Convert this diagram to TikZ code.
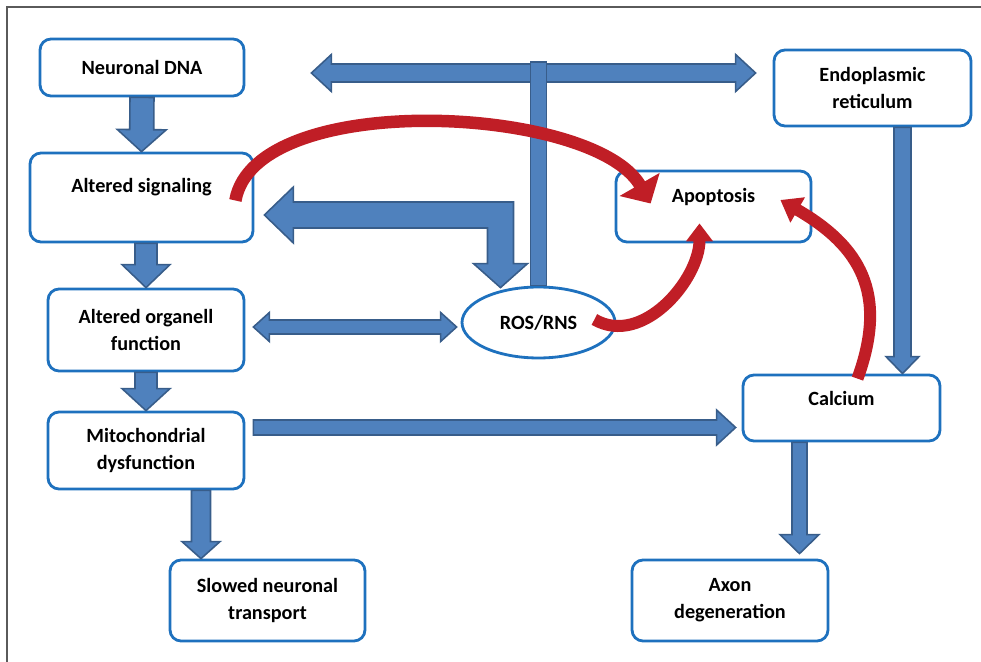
\documentclass[tikz,border=0pt]{standalone}
\usepackage{fontspec}
\setmainfont{Carlito}
\usetikzlibrary{arrows.meta, calc, shapes.geometric}
\definecolor{bblue}{RGB}{30,113,190}
\definecolor{afill}{RGB}{79,129,189}
\definecolor{aline}{RGB}{56,93,138}
\definecolor{rred}{RGB}{192,30,38}
\definecolor{framec}{RGB}{90,90,90}

% block arrow: from, to, half shaft, half head, head length
\newcommand{\blockarrow}[5]{%
  \coordinate (ba-h) at ($(#2)!#5!(#1)$);
  \draw[barr] ($(#1)!#3!90:(#2)$) -- ($(ba-h)!#3!90:(#2)$) -- ($(ba-h)!#4!90:(#2)$) -- (#2)
    -- ($(ba-h)!#4!-90:(#2)$) -- ($(ba-h)!#3!-90:(#2)$) -- ($(#1)!#3!-90:(#2)$) -- cycle;}
% same, with a head at both ends
\newcommand{\dblarrow}[5]{%
  \coordinate (ba-a) at ($(#1)!#5!(#2)$);
  \coordinate (ba-b) at ($(#2)!#5!(#1)$);
  \draw[barr] (#1) -- ($(ba-a)!#4!90:(#2)$) -- ($(ba-a)!#3!90:(#2)$) -- ($(ba-b)!#3!90:(#2)$)
    -- ($(ba-b)!#4!90:(#2)$) -- (#2) -- ($(ba-b)!#4!-90:(#2)$) -- ($(ba-b)!#3!-90:(#2)$)
    -- ($(ba-a)!#3!-90:(#2)$) -- ($(ba-a)!#4!-90:(#2)$) -- cycle;}

\begin{document}
\begin{tikzpicture}[x=0.02cm, y=-0.02cm,
  box/.style={draw=bblue,line width=1.6pt,rounded corners=0.22cm,fill=white,
              align=center,inner sep=0pt,font={\fontsize{11.5}{15.5}\selectfont\bfseries}},
  hightext/.style={text height=8pt,text depth=#1},
  barr/.style={fill=afill,draw=aline,line width=0.9pt,line join=miter},
  rarr/.style={draw=rred,line width=#1}
]
\useasboundingbox (0,0) rectangle (981,662);
\draw[framec,line width=0.6pt] (7,662) -- (7,7) -- (981,7);

% boxes
\node[box,minimum width=4.08cm,minimum height=1.14cm] (dna) at (142,67.5) {Neuronal DNA};
\node[box,hightext=13.6pt,minimum width=4.46cm,minimum height=1.78cm] (sig) at (141.5,197.5) {Altered signaling};
\node[box,minimum width=3.92cm,minimum height=1.64cm] (org) at (146,330) {Altered organell\\function};
\node[box,minimum width=3.92cm,minimum height=1.54cm] (mito) at (146,450.5) {Mitochondrial\\dysfunction};
\node[box,minimum width=3.9cm,minimum height=1.62cm] (slow) at (267.5,600.5) {Slowed neuronal\\transport};
\node[box,ellipse,minimum width=3.06cm,minimum height=1.42cm] (ros) at (538.5,322.5) {ROS/RNS};
\node[box,hightext=12.4pt,minimum width=3.9cm,minimum height=1.42cm] (apo) at (713.5,206.5) {Apoptosis};
\node[box,minimum width=3.94cm,minimum height=1.52cm] (er) at (872.5,88) {Endoplasmic\\reticulum};
\node[box,hightext=11.2pt,minimum width=3.94cm,minimum height=1.32cm] (cal) at (841.5,408) {Calcium};
\node[box,minimum width=3.92cm,minimum height=1.62cm] (axon) at (730,600.5) {Axon\\degeneration};

% blue block arrows
\coordinate (a2) at (org.north |- sig.south);
\coordinate (a4) at ($(mito.south)+(55,0)$);
\coordinate (a4e) at (a4 |- slow.north);
\coordinate (m2c) at ($(mito.east)+(8,-23)$);
\coordinate (m2ce) at ($(cal.west |- m2c)+(-6,0)$);
\coordinate (o2r) at ($(org.east)+(8,-3)$);
\coordinate (o2re) at ($(ros.west |- o2r)+(-4,0)$);
\coordinate (e2c) at ($(er.south)+(30,0)$);
\coordinate (e2ce) at (e2c |- cal.north);
\coordinate (c2a) at ($(cal.south)+(-42,0)$);
\coordinate (c2ae) at ($(c2a |- axon.north)+(0,-5)$);
\coordinate (tl) at ($(dna.east)+(66,5.5)$);
\coordinate (tr) at ($(er.west |- tl)+(-17,0)$);
\coordinate (sl) at ($(sig.east)+(10,17.5)$);
\coordinate (rb) at ($(ros.north)+(-38,2)$);

\blockarrow{dna.south}{sig.north}{0.24cm}{0.49cm}{0.44cm}
\blockarrow{a2}{org.north}{0.22cm}{0.48cm}{0.46cm}
\blockarrow{org.south}{mito.north}{0.22cm}{0.48cm}{0.44cm}
\blockarrow{a4}{a4e}{0.19cm}{0.38cm}{0.34cm}
\blockarrow{m2c}{m2ce}{0.15cm}{0.35cm}{0.38cm}
\blockarrow{e2c}{e2ce}{0.17cm}{0.33cm}{0.34cm}
\blockarrow{c2a}{c2ae}{0.15cm}{0.39cm}{0.38cm}
\dblarrow{o2r}{o2re}{0.14cm}{0.29cm}{0.32cm}
\dblarrow{tl}{tr}{0.18cm}{0.37cm}{0.4cm}
\draw[barr] ($(ros.north)+(-8,0)$) rectangle ($(ros.north |- tl)+(8,-11)$);
\draw[barr] (sl) -- ($(sl)+(29,-28)$) -- ($(sl)+(29,-13)$) -- ($(rb |- sl)+(13,-13)$)
  -- ($(rb)+(13,-24)$) -- ($(rb)+(27,-24)$) -- (rb) -- ($(rb)+(-27,-24)$)
  -- ($(rb)+(-13,-24)$) -- ($(rb |- sl)+(-13,13)$) -- ($(sl)+(29,13)$)
  -- ($(sl)+(29,28)$) -- cycle;

% red curved arrows
\coordinate (ra1) at ($(sig.east)+(-19,3)$);
\coordinate (ra2) at ($(apo.west)+(36,-3)$);
\coordinate (rb1) at ($(ros.east)+(-22,-3)$);
\coordinate (rb2) at ($(apo.south)+(-14,-20)$);
\coordinate (rc1) at ($(cal.north)+(16,5)$);
\coordinate (rc2) at ($(apo.east)+(-32,-6.5)$);
\draw[rarr=0.25cm,-{Triangle[width=0.9cm,length=0.44cm]}] (ra1) to[out=80,in=120,looseness=0.7] (ra2);
\draw[rarr=0.24cm,-{Triangle[width=0.52cm,length=0.36cm]}] (rb1) to[out=-30,in=-90] (rb2);
\draw[rarr=0.24cm,-{Triangle[width=0.56cm,length=0.4cm]}] (rc1) to[out=70,in=-30,looseness=1.2] (rc2);
\end{tikzpicture}
\end{document}
